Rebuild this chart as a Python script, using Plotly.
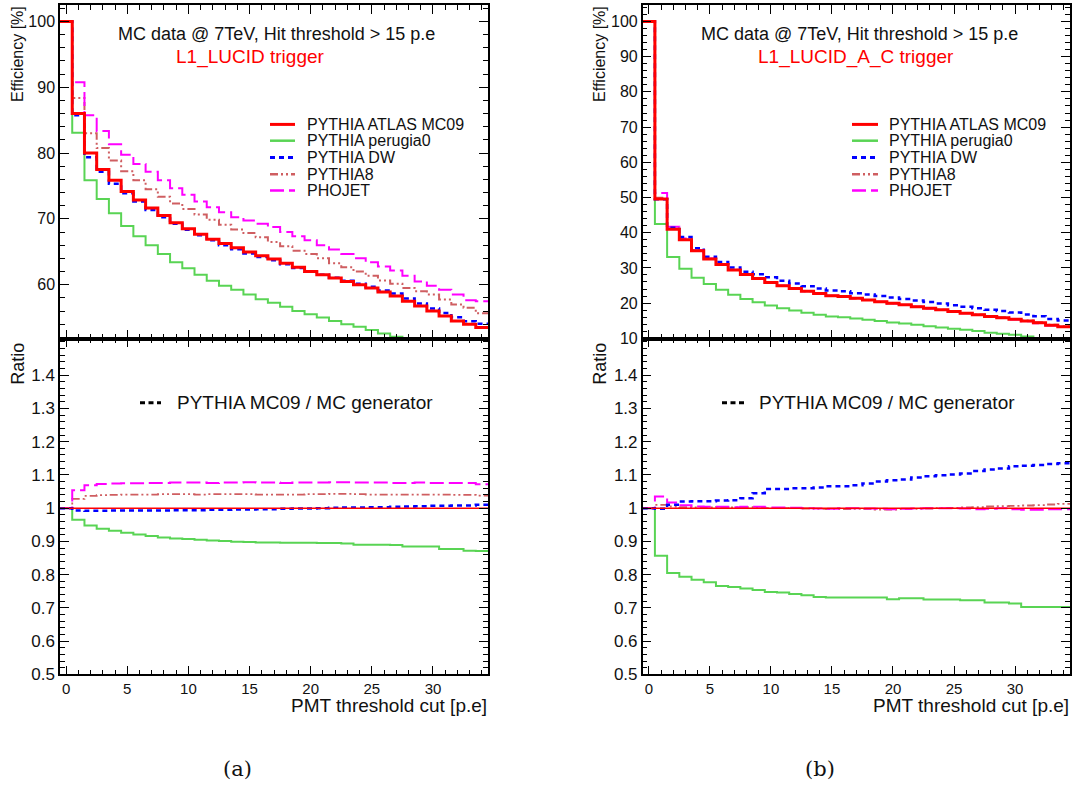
import plotly.graph_objects as go

# ---------------- data ----------------
bins = list(range(35))  # PMT threshold cut [p.e], bin centres

series_names = ["PYTHIA ATLAS MC09", "PYTHIA perugia0", "PYTHIA DW", "PYTHIA8", "PHOJET"]

# (a) L1_LUCID efficiency [%]
eff_a_mc09 = [100, 86.0, 80.0, 77.5, 75.85, 74.15, 72.85, 71.65, 70.5, 69.4, 68.5, 67.65, 66.9, 66.25,
              65.6, 64.95, 64.4, 63.9, 63.25, 62.65, 62.0, 61.5, 61.0, 60.5, 60.0, 59.5, 58.9, 58.3,
              57.5, 56.75, 56.0, 55.25, 54.5, 54.0, 53.5]
eff_a_perugia0 = [100, 83.1, 75.85, 73.0, 70.85, 68.9, 67.35, 66.0, 64.65, 63.4, 62.5, 61.5, 60.6, 59.85,
                  59.25, 58.5, 57.8, 57.25, 56.65, 56.0, 55.5, 55.0, 54.5, 54.0, 53.6, 53.1, 52.6, 52.1,
                  51.6, 50.3, 49.6, 48.5, 47.9, 47.1, 46.6]
eff_a_dw = [100, 85.75, 79.35, 77.15, 75.35, 73.9, 72.65, 71.35, 70.25, 69.25, 68.35, 67.5, 66.75, 66.0,
            65.4, 64.75, 64.2, 63.7, 63.1, 62.55, 61.95, 61.5, 61.05, 60.6, 60.15, 59.7, 59.1, 58.65,
            57.9, 57.15, 56.4, 55.7, 55.05, 54.45, 54.05]
eff_a_pythia8 = [100, 88.35, 83.0, 80.75, 78.85, 77.25, 75.85, 74.5, 73.35, 72.35, 71.5, 70.65, 69.85, 69.1,
                 68.4, 67.85, 67.2, 66.5, 65.85, 65.15, 64.65, 64.0, 63.25, 62.65, 62.0, 61.35, 60.65,
                 60.15, 59.5, 59.0, 58.5, 57.75, 57.0, 56.5, 55.65]
eff_a_phojet = [100, 90.75, 85.75, 83.35, 81.35, 79.75, 78.35, 77.15, 75.85, 74.65, 73.65, 72.65, 71.75,
                71.0, 70.25, 69.75, 69.25, 68.75, 68.0, 67.35, 66.75, 66.0, 65.35, 64.65, 64.0, 63.4,
                62.75, 62.15, 61.35, 60.5, 59.85, 59.25, 58.5, 57.65, 57.5]

# (a) ratios
ratio_a_mc09 = [1.0] * 35
ratio_a_perugia0 = [1.0, 0.965, 0.948, 0.938, 0.932, 0.926, 0.921, 0.916, 0.912, 0.909, 0.907, 0.905, 0.903,
                    0.901, 0.899, 0.898, 0.897, 0.897, 0.896, 0.896, 0.896, 0.895, 0.895, 0.894, 0.890,
                    0.890, 0.890, 0.889, 0.885, 0.885, 0.885, 0.877, 0.877, 0.872, 0.871]
ratio_a_dw = [1.0, 0.993, 0.992, 0.992, 0.993, 0.993, 0.993, 0.993, 0.993, 0.994, 0.994, 0.994, 0.995, 0.995,
              0.996, 0.996, 0.997, 0.997, 0.998, 0.999, 0.999, 1.0, 1.001, 1.002, 1.002, 1.003, 1.003,
              1.004, 1.005, 1.006, 1.007, 1.007, 1.008, 1.008, 1.01]
ratio_a_pythia8 = [1.0, 1.028, 1.037, 1.039, 1.04, 1.041, 1.041, 1.041, 1.042, 1.042, 1.042, 1.041, 1.042,
                   1.042, 1.042, 1.042, 1.041, 1.041, 1.041, 1.041, 1.042, 1.042, 1.043, 1.043, 1.042,
                   1.041, 1.041, 1.041, 1.041, 1.041, 1.041, 1.041, 1.040, 1.040, 1.038]
ratio_a_phojet = [1.0, 1.054, 1.069, 1.073, 1.074, 1.075, 1.075, 1.076, 1.076, 1.077, 1.077, 1.077, 1.076,
                  1.077, 1.077, 1.078, 1.077, 1.077, 1.076, 1.077, 1.077, 1.077, 1.078, 1.078, 1.077,
                  1.077, 1.077, 1.076, 1.076, 1.077, 1.076, 1.076, 1.076, 1.076, 1.072]

# (b) L1_LUCID_A_C efficiency [%]
eff_b_mc09 = [100, 49.6, 41.0, 38.0, 34.9, 32.55, 31.0, 29.4, 28.1, 27.0, 25.85, 24.9, 24.15, 23.4, 22.75,
              22.1, 21.9, 21.35, 20.9, 20.4, 19.95, 19.5, 19.0, 18.55, 18.1, 17.6, 17.15, 16.7, 16.2,
              15.85, 15.4, 14.9, 14.4, 13.7, 13.25]
eff_b_perugia0 = [100, 42.45, 33.1, 29.75, 27.2, 25.4, 23.8, 22.4, 21.2, 20.25, 19.3, 18.55, 17.9, 17.25,
                  16.7, 16.2, 15.95, 15.6, 15.25, 14.9, 14.5, 14.2, 13.85, 13.45, 13.1, 12.75, 12.4, 12.1,
                  11.6, 11.3, 11.0, 10.5, 10.1, 9.65, 9.3]
eff_b_dw = [100, 49.5, 41.4, 38.8, 35.6, 33.2, 31.7, 30.1, 28.9, 28.2, 27.35, 26.35, 25.6, 24.8, 24.15,
            23.55, 23.35, 22.8, 22.45, 22.05, 21.6, 21.2, 20.75, 20.3, 19.9, 19.4, 18.95, 18.55, 18.1,
            17.75, 17.35, 16.8, 16.25, 15.5, 15.05]
eff_b_pythia8 = [100, 49.9, 41.2, 38.1, 35.0, 32.6, 31.05, 29.4, 28.1, 27.0, 25.85, 24.9, 24.1, 23.4, 22.7,
                 22.1, 21.85, 21.3, 20.85, 20.35, 19.9, 19.45, 19.0, 18.55, 18.1, 17.6, 17.2, 16.75, 16.3,
                 15.95, 15.5, 15.05, 14.55, 13.85, 13.4]
eff_b_phojet = [100, 51.3, 41.7, 38.35, 35.1, 32.7, 31.1, 29.5, 28.15, 27.05, 25.9, 24.95, 24.2, 23.4,
                22.75, 22.1, 21.9, 21.35, 20.9, 20.4, 19.9, 19.45, 19.0, 18.5, 18.05, 17.6, 17.1, 16.65,
                16.2, 15.8, 15.35, 14.85, 14.3, 13.65, 13.2]

# (b) ratios
ratio_b_mc09 = [1.0] * 35
ratio_b_perugia0 = [1.0, 0.857, 0.805, 0.794, 0.785, 0.777, 0.766, 0.763, 0.758, 0.754, 0.748, 0.746, 0.742,
                    0.738, 0.733, 0.731, 0.731, 0.731, 0.731, 0.731, 0.726, 0.729, 0.729, 0.725, 0.725,
                    0.725, 0.723, 0.723, 0.716, 0.716, 0.713, 0.703, 0.703, 0.703, 0.703]
ratio_b_dw = [1.0, 0.998, 1.01, 1.02, 1.021, 1.021, 1.023, 1.024, 1.03, 1.045, 1.058, 1.058, 1.06, 1.06,
              1.062, 1.066, 1.066, 1.069, 1.074, 1.08, 1.084, 1.086, 1.092, 1.096, 1.099, 1.101, 1.104,
              1.112, 1.116, 1.119, 1.126, 1.128, 1.13, 1.133, 1.135]
ratio_b_pythia8 = [1.0, 1.01, 1.005, 1.003, 1.002, 1.002, 1.003, 1.002, 1.003, 1.001, 1.0, 1.0, 1.001, 0.999,
                   0.998, 0.997, 0.997, 0.998, 0.997, 0.996, 0.996, 0.997, 0.998, 0.999, 1.0, 1.001, 1.002,
                   1.003, 1.005, 1.006, 1.007, 1.008, 1.009, 1.011, 1.013]
ratio_b_phojet = [1.0, 1.035, 1.017, 1.009, 1.005, 1.004, 1.004, 1.003, 1.004, 1.004, 1.002, 1.002, 1.001,
                  1.0, 0.999, 0.998, 1.0, 1.0, 0.999, 0.998, 0.997, 0.998, 0.999, 1.0, 1.0, 1.0, 0.999,
                  0.997, 0.998, 1.0, 0.997, 0.995, 0.995, 0.997, 0.997]

y_ticks_a = [60, 70, 80, 90, 100]
y_ticks_b = [10, 20, 30, 40, 50, 60, 70, 80, 90, 100]
ratio_ticks = [0.5, 0.6, 0.7, 0.8, 0.9, 1, 1.1, 1.2, 1.3, 1.4]
ratio_tick_text = ["0.5", "0.6", "0.7", "0.8", "0.9", "1", "1.1", "1.2", "1.3", "1.4"]
x_ticks = [0, 5, 10, 15, 20, 25, 30]

# ---------------- styles ----------------
colors = ["#ff0000", "#59d454", "#0000ff", "#cf5e61", "#ff00ff"]
dashes = ["solid", "solid", "5px,4px", "8px,3px,2px,3px,2px,3px", "14px,5px"]
widths_top = [3, 2, 2.5, 2, 2]
widths_ratio = [1.5, 2, 2.5, 1.8, 2]

W, H = 1075, 791
FONT = "Liberation Sans, Arial, sans-serif"
TXT = "#111"


def px_x(p):
    return p / W


def px_y(p):
    return 1 - p / H


edges = [b - 0.5 for b in bins] + [bins[-1] + 0.5]


def step(vals):
    return vals + [vals[-1]]


fig = go.Figure()

panels = [
    ("x", "y", [eff_a_mc09, eff_a_perugia0, eff_a_dw, eff_a_pythia8, eff_a_phojet], widths_top),
    ("x2", "y2", [ratio_a_mc09, ratio_a_perugia0, ratio_a_dw, ratio_a_pythia8, ratio_a_phojet], widths_ratio),
    ("x3", "y3", [eff_b_mc09, eff_b_perugia0, eff_b_dw, eff_b_pythia8, eff_b_phojet], widths_top),
    ("x4", "y4", [ratio_b_mc09, ratio_b_perugia0, ratio_b_dw, ratio_b_pythia8, ratio_b_phojet], widths_ratio),
]

for xa, ya, data, widths in panels:
    order = [1, 3, 4, 2, 0]  # MC09 drawn last (on top)
    for i in order:
        fig.add_trace(go.Scatter(
            x=edges, y=step(data[i]), mode="lines", line_shape="hv",
            line=dict(color=colors[i], width=widths[i], dash=dashes[i]),
            xaxis=xa, yaxis=ya, name=series_names[i], showlegend=False,
        ))

# domains in pixels
left_dom = [px_x(60), px_x(488)]
right_dom = [px_x(642.7), px_x(1070)]
top_dom = [px_y(343), px_y(5)]
bot_dom = [px_y(683), px_y(343)]

axis_common = dict(showline=True, mirror="ticks", linecolor="black", linewidth=1.5,
                   ticks="inside", tickcolor="black", tickwidth=1.2, showgrid=False, zeroline=False,
                   tickfont=dict(family=FONT, color=TXT))

xcommon = dict(axis_common, range=[-0.5, 34.5], tickvals=x_ticks, ticklen=9,
               minor=dict(ticks="inside", ticklen=5, dtick=1, tick0=0, tickcolor="black", tickwidth=1))

fig.update_layout(
    width=W, height=H, margin=dict(l=0, r=0, t=0, b=0),
    paper_bgcolor="white", plot_bgcolor="white", showlegend=False,
    xaxis=dict(xcommon, domain=left_dom, anchor="y", showticklabels=False),
    yaxis=dict(axis_common, domain=top_dom, anchor="x", range=[51.8, 102.5], tickvals=y_ticks_a,
               ticklen=9, tickfont=dict(family=FONT, size=16, color=TXT),
               minor=dict(ticks="inside", ticklen=5, dtick=2, tick0=0, tickcolor="black", tickwidth=1)),
    xaxis2=dict(xcommon, domain=left_dom, anchor="y2", tickfont=dict(family=FONT, size=15, color=TXT)),
    yaxis2=dict(axis_common, domain=bot_dom, anchor="x2", range=[0.5, 1.51], tickvals=ratio_ticks,
                ticktext=ratio_tick_text, ticklen=9, tickfont=dict(family=FONT, size=17, color=TXT),
                minor=dict(ticks="inside", ticklen=5, dtick=0.02, tick0=0, tickcolor="black", tickwidth=1)),
    xaxis3=dict(xcommon, domain=right_dom, anchor="y3", showticklabels=False),
    yaxis3=dict(axis_common, domain=top_dom, anchor="x3", range=[9.9, 104.7], tickvals=y_ticks_b,
                ticklen=9, tickfont=dict(family=FONT, size=16, color=TXT),
                minor=dict(ticks="inside", ticklen=5, dtick=2, tick0=0, tickcolor="black", tickwidth=1)),
    xaxis4=dict(xcommon, domain=right_dom, anchor="y4", tickfont=dict(family=FONT, size=15, color=TXT)),
    yaxis4=dict(axis_common, domain=bot_dom, anchor="x4", range=[0.5, 1.51], tickvals=ratio_ticks,
                ticktext=ratio_tick_text, ticklen=9, tickfont=dict(family=FONT, size=17, color=TXT),
                minor=dict(ticks="inside", ticklen=5, dtick=0.02, tick0=0, tickcolor="black", tickwidth=1)),
)

texts = [
    dict(x=px_x(276.5), y=px_y(34), text="MC data @ 7TeV, Hit threshold > 15 p.e", xanchor="center",
         yanchor="middle", font=dict(family=FONT, size=18, color=TXT)),
    dict(x=px_x(174), y=px_y(58), text="L1_LUCID trigger", xanchor="left", yanchor="middle",
         font=dict(family=FONT, size=19, color="#ff0000")),
    dict(x=px_x(859), y=px_y(34), text="MC data @ 7TeV, Hit threshold > 15 p.e", xanchor="center",
         yanchor="middle", font=dict(family=FONT, size=18, color=TXT)),
    dict(x=px_x(756), y=px_y(58), text="L1_LUCID_A_C trigger", xanchor="left", yanchor="middle",
         font=dict(family=FONT, size=19, color="#ff0000")),
    dict(x=px_x(18), y=px_y(4), text="Efficiency [%]", textangle=-90, xanchor="center", yanchor="top",
         font=dict(family=FONT, size=16, color=TXT)),
    dict(x=px_x(18), y=px_y(345), text="Ratio", textangle=-90, xanchor="center", yanchor="top",
         font=dict(family=FONT, size=18, color=TXT)),
    dict(x=px_x(600), y=px_y(4), text="Efficiency [%]", textangle=-90, xanchor="center", yanchor="top",
         font=dict(family=FONT, size=16, color=TXT)),
    dict(x=px_x(600), y=px_y(345), text="Ratio", textangle=-90, xanchor="center", yanchor="top",
         font=dict(family=FONT, size=18, color=TXT)),
    dict(x=px_x(489), y=px_y(715), text="PMT threshold cut [p.e]", xanchor="right", yanchor="middle",
         font=dict(family=FONT, size=19, color=TXT)),
    dict(x=px_x(1071), y=px_y(715), text="PMT threshold cut [p.e]", xanchor="right", yanchor="middle",
         font=dict(family=FONT, size=19, color=TXT)),
    dict(x=px_x(237), y=px_y(779), text="(a)", xanchor="center", yanchor="middle",
         font=dict(family="DejaVu Serif, Liberation Serif, serif", size=21, color=TXT)),
    dict(x=px_x(820), y=px_y(779), text="(b)", xanchor="center", yanchor="middle",
         font=dict(family="DejaVu Serif, Liberation Serif, serif", size=21, color=TXT)),
]

shapes = []
# legends for the efficiency panels (sample line + label)
legend_rows = [126, 142.5, 159.5, 176.5, 193]
for (lx0, lx1, tx) in [(270, 295, 305), (852, 878, 887)]:
    for i, name in enumerate(series_names):
        yy = px_y(legend_rows[i])
        shapes.append(dict(type="line", xref="paper", yref="paper", x0=px_x(lx0), x1=px_x(lx1),
                           y0=yy, y1=yy,
                           line=dict(color=colors[i], width=3 if i in (0, 2) else 2.5, dash=dashes[i])))
        texts.append(dict(x=px_x(tx), y=yy, text=name, xanchor="left", yanchor="middle",
                          font=dict(family=FONT, size=16, color=TXT)))

# legends for the ratio panels
for (lx0, lx1, tx) in [(140, 161, 175), (722, 746, 757)]:
    yy = px_y(408)
    shapes.append(dict(type="line", xref="paper", yref="paper", x0=px_x(lx0), x1=px_x(lx1), y0=yy, y1=yy,
                       line=dict(color="black", width=3, dash="5px,3.5px")))
    texts.append(dict(x=px_x(tx), y=yy, text="PYTHIA MC09 / MC generator", xanchor="left",
                      yanchor="middle", font=dict(family=FONT, size=19, color=TXT)))

for t in texts:
    t.update(xref="paper", yref="paper", showarrow=False)
fig.update_layout(annotations=texts, shapes=shapes)

post = (
    "var s=document.createElement('style');"
    "s.innerHTML='html,body{margin:0;padding:0;overflow:hidden;}';"
    "document.head.appendChild(s);"
)
fig.write_html("out.html", config={"displayModeBar": False}, post_script=post)
